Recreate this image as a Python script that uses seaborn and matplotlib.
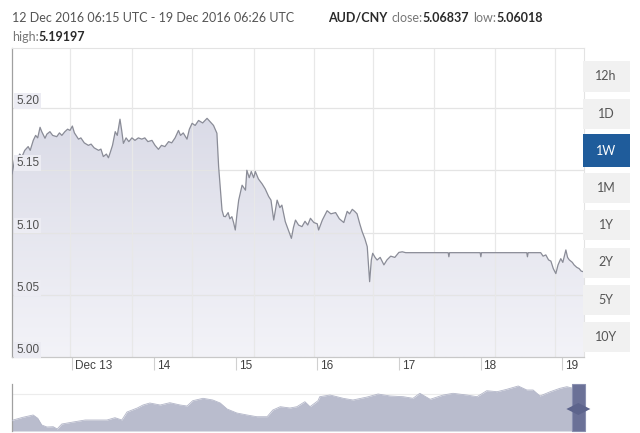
import numpy as np
import matplotlib
matplotlib.use("Agg")
import matplotlib.pyplot as plt
import seaborn as sns
from matplotlib.colors import LinearSegmentedColormap
from matplotlib.patches import Rectangle, Polygon
import matplotlib.transforms as mtransforms

# ---------------- data ----------------
# hours since 12 Dec 2016 00:00 UTC
hours = [6.25, 6.6, 7.1, 7.8, 8.5, 9.2, 10.0, 11.0, 11.6, 12.5, 13.2, 13.8, 14.5, 15.0, 15.95,
         16.5, 17.4, 18.2, 19.4, 20.2, 20.9, 21.8, 22.6, 23.3, 24.0, 24.6, 25.8, 26.5, 27.5,
         28.7, 29.5, 30.4, 31.7, 32.4, 33.1, 34.0, 34.6, 35.1, 35.8, 36.6, 37.2, 38.0, 38.5,
         39.0, 39.8, 40.6, 41.5, 42.4, 43.4, 44.4, 45.3, 46.2, 47.4, 48.3, 49.3, 50.2, 51.2,
         52.3, 53.2, 54.2, 55.2, 55.8, 56.6, 57.7, 58.4, 59.2, 60.1, 61.1, 62.3, 63.6, 64.5,
         65.5, 66.5, 67.0, 67.5, 68.0, 68.5, 69.0, 69.8, 70.3, 70.9, 71.4, 71.9, 72.4, 72.9,
         73.9, 74.9, 75.3, 76.0, 76.6, 77.3, 77.8, 78.7, 79.8, 80.7, 81.7, 82.4, 83.2, 84.2,
         85.0, 85.6, 86.6, 87.5, 88.4, 89.0, 89.6, 90.5, 91.5, 92.4, 93.2, 94.0, 95.0, 96.0,
         96.4, 97.5, 98.9, 100.0, 101.4, 102.5, 103.8, 104.8, 105.5, 106.3, 107.0, 107.7,
         108.5, 109.2, 110.0, 110.7, 111.1, 111.4, 111.9, 112.3, 113.0, 113.6, 114.5, 115.6,
         116.5, 117.6, 118.8, 120.0, 121.0, 122.0, 134.5, 134.7, 134.9, 143.9, 144.1, 144.3,
         157.6, 157.8, 158.0, 161.7, 162.4, 163.2, 164.0, 164.7, 165.4, 166.15, 166.8, 167.6,
         168.2, 169.1, 169.6, 170.1, 171.0, 171.5, 172.3, 173.0, 173.6, 174.43]
prices = [5.147, 5.152, 5.160, 5.158, 5.163, 5.161, 5.166, 5.169, 5.166, 5.174, 5.178, 5.176,
          5.1845, 5.181, 5.1757, 5.179, 5.181, 5.178, 5.177, 5.180, 5.178, 5.181, 5.183, 5.182,
          5.1855, 5.180, 5.175, 5.176, 5.172, 5.170, 5.171, 5.168, 5.166, 5.167, 5.161, 5.163,
          5.160, 5.164, 5.170, 5.181, 5.178, 5.191, 5.182, 5.1716, 5.176, 5.173, 5.176, 5.174,
          5.176, 5.175, 5.176, 5.173, 5.174, 5.170, 5.1668, 5.170, 5.169, 5.173, 5.172, 5.176,
          5.182, 5.178, 5.180, 5.175, 5.183, 5.1877, 5.186, 5.190, 5.188, 5.1917, 5.189, 5.186,
          5.1797, 5.153, 5.135, 5.118, 5.113, 5.1127, 5.116, 5.111, 5.1127, 5.108, 5.102, 5.115,
          5.126, 5.138, 5.134, 5.150, 5.144, 5.149, 5.144, 5.149, 5.143, 5.139, 5.135, 5.129,
          5.126, 5.110, 5.126, 5.120, 5.122, 5.1087, 5.102, 5.0953, 5.104, 5.110, 5.106, 5.1047,
          5.109, 5.106, 5.1114, 5.108, 5.107, 5.102, 5.110, 5.1175, 5.115, 5.116, 5.111, 5.108,
          5.117, 5.115, 5.1186, 5.117, 5.115, 5.107, 5.1007, 5.095, 5.0886, 5.072, 5.0605, 5.078,
          5.0833, 5.080, 5.0779, 5.080, 5.074, 5.078, 5.081, 5.080, 5.084, 5.0845, 5.0838,
          5.0838, 5.0805, 5.0838, 5.0838, 5.0805, 5.0838, 5.0838, 5.0805, 5.0838, 5.0838,
          5.081, 5.082, 5.078, 5.077, 5.071, 5.067, 5.074, 5.079, 5.076, 5.086, 5.080, 5.078,
          5.076, 5.074, 5.072, 5.071, 5.069, 5.06837]

y_ticks = [5.00, 5.05, 5.10, 5.15, 5.20]
y_tick_labels = ["5.00", "5.05", "5.10", "5.15", "5.20"]
x_ticks = [24, 48, 72, 96, 120, 144, 168]
x_tick_labels = ["Dec 13", "14", "15", "16", "17", "18", "19"]
x_grid = [23.4, 41.4, 59.3, 77.3, 95.0, 112.3, 130.3, 148.3, 165.8]

# navigator (overview) series, position along the strip (0-1) and relative height
nav_pos = [0.0, 0.002, 0.019, 0.037, 0.045, 0.052, 0.061, 0.072, 0.079, 0.087, 0.107, 0.128,
           0.149, 0.166, 0.180, 0.192, 0.201, 0.219, 0.229, 0.241, 0.259, 0.276, 0.294, 0.306,
           0.316, 0.334, 0.351, 0.364, 0.376, 0.393, 0.411, 0.428, 0.446, 0.456, 0.469, 0.486,
           0.498, 0.512, 0.521, 0.535, 0.538, 0.556, 0.579, 0.596, 0.621, 0.640, 0.661, 0.684,
           0.701, 0.713, 0.731, 0.754, 0.771, 0.795, 0.813, 0.830, 0.848, 0.865, 0.885, 0.900,
           0.911, 0.923, 0.941, 0.958, 0.970, 0.981, 0.997, 1.0]
nav_val = [10, 11, 13.7, 16, 12.7, 6, 4, 4.3, 2, 7, 9, 11, 11, 11, 13.3, 11, 19, 23, 26, 28,
           26, 28.3, 26, 25, 30.3, 32.7, 31, 28, 22, 18, 16, 14.3, 14.3, 21, 24.3, 23, 24.3,
           29.3, 24.3, 30.3, 34.3, 36, 32.7, 31, 34, 37, 35, 34.3, 32.7, 37.7, 31.7, 36, 37.7,
           36, 34.3, 40.3, 39.3, 41.7, 45, 41, 41, 35, 39.3, 42.7, 44.3, 42.7, 41, 41]

header_date = "12 Dec 2016 06:15 UTC - 19 Dec 2016 06:26 UTC"
pair = "AUD/CNY"
close_v, low_v, high_v = "5.06837", "5.06018", "5.19197"
buttons = ["12h", "1D", "1W", "1M", "1Y", "2Y", "5Y", "10Y"]
selected = "1W"

# ---------------- figure ----------------
sns.set_style("white")
plt.rcParams['font.family'] = ['Liberation Sans', 'DejaVu Sans']
W, H = 640, 433
fig = plt.figure(figsize=(6.4, 4.33), dpi=100)
fig.patch.set_facecolor("white")

def fr(x0, y0, x1, y1):
    return [x0 / W, 1 - y1 / H, (x1 - x0) / W, (y1 - y0) / H]

ax = fig.add_axes(fr(12, 48, 584, 357))
ax.set_facecolor("white")

xmin, xmax = hours[0], hours[-1]
ymin, ymax = 5.0, 5.0 + 309 / 1245

# gradient fill under the line
poly = ax.fill_between(hours, prices, ymin, facecolor="none", edgecolor="none")
cmap = LinearSegmentedColormap.from_list("g", ["#f3f3f8", "#d3d4e2"])
grad = np.linspace(0, 1, 256).reshape(-1, 1)
im = ax.imshow(grad, extent=[xmin, xmax, ymin, ymax], origin="lower", cmap=cmap,
               aspect="auto", zorder=1, interpolation="bilinear")
im.set_clip_path(poly.get_paths()[0], transform=ax.transData)

sns.lineplot(x=hours, y=prices, ax=ax, color="#8a8c97", linewidth=0.9, zorder=3)

ax.set_xlim(xmin, xmax)
ax.set_ylim(ymin, ymax)

# grid
for g in y_ticks[1:]:
    ax.axhline(g, color="#e4e4e4", lw=0.9, zorder=2)
for g in x_grid:
    ax.axvline(g, color="#e8e8e8", lw=0.9, zorder=2)

ax.set_xticks(x_ticks)
ax.set_xticklabels([])
ax.set_yticks([])
ax.tick_params(axis="x", direction="out", length=9, width=0.8, color="#d0d0d0", bottom=True)

for s in ["top", "right"]:
    ax.spines[s].set_color("#e3e3e3")
    ax.spines[s].set_linewidth(0.8)
ax.spines["left"].set_color("#a0a0a0")
ax.spines["left"].set_linewidth(0.9)
ax.spines["bottom"].set_color("#c8c8c8")
ax.spines["bottom"].set_linewidth(0.9)

# y labels inside the plot
ylab_tr = mtransforms.offset_copy(ax.get_yaxis_transform(), fig=fig, x=4, y=7, units="dots")
for v, lab in zip(y_ticks, y_tick_labels):
    ax.text(0, v, lab, transform=ylab_tr, ha="left", va="center", fontsize=8.5,
            color="#505050", zorder=5,
            bbox=dict(boxstyle="square,pad=0.15", fc="#ececf3", ec="none"))

# x labels to the right of tick
xlab_tr = mtransforms.offset_copy(ax.get_xaxis_transform(), fig=fig, x=3, y=-9, units="dots")
for v, lab in zip(x_ticks, x_tick_labels):
    ax.text(v, 0, lab, transform=xlab_tr, ha="left", va="center", fontsize=8.5,
            color="#404040", clip_on=False)

# ---------------- navigator ----------------
nav = fig.add_axes(fr(12, 384, 584, 431))
nav.set_facecolor("white")
nav.fill_between(nav_pos, nav_val, 0, color="#b9bccd", lw=0, zorder=2)
sns.lineplot(x=nav_pos, y=nav_val, ax=nav, color="#b3b6c8", linewidth=0.6, zorder=3)
nav.axhline(37, color="#ececec", lw=0.8, zorder=1)
nav.set_xlim(0, 1)
nav.set_ylim(0, 47)
nav.set_xticks([])
nav.set_yticks([])
for s in ["top", "right", "bottom"]:
    nav.spines[s].set_visible(False)
nav.spines["left"].set_color("#a0a0a0")
nav.spines["left"].set_linewidth(0.9)

# navigator handle
hx0, hx1 = (571.7 - 12) / 572, (585 - 12) / 572
nav.add_patch(Rectangle((hx0, 0), hx1 - hx0, 47, facecolor="#6b7197", edgecolor="#8a90b0",
                        lw=0.8, zorder=5, clip_on=False))
cx = (hx0 + hx1) / 2
nav.add_patch(Polygon([[cx - 12 / 572, 22], [cx, 28], [cx + 12 / 572, 22], [cx, 16]],
                      closed=True, facecolor="#5d648c", edgecolor="none", zorder=6, clip_on=False))

# ---------------- buttons ----------------
for i, b in enumerate(buttons):
    cy = 76.5 + i * 37.2
    sel = b == selected
    hh = 33 if sel else 30
    fig.add_artist(Rectangle(((583) / W, 1 - (cy + hh / 2) / H), 47 / W, hh / H,
                             transform=fig.transFigure,
                             facecolor="#1f5c9b" if sel else "#f1f1f1", edgecolor="none"))
    fig.text(606 / W, 1 - cy / H, b, ha="center", va="center", fontsize=9,
             family=["Lato", "DejaVu Sans"], weight="normal",
             color="white" if sel else "#555555")

# ---------------- header ----------------
renderer = fig.canvas.get_renderer()

def chain(items, x, y):
    for txt, weight, color, gap in items:
        t = fig.text(x / W, 1 - y / H, txt, ha="left", va="center", fontsize=9,
                     family=["Lato", "DejaVu Sans"], weight=weight, color=color)
        bb = t.get_window_extent(renderer=renderer)
        x = bb.x1 + gap

chain([(header_date, "normal", "#555555", 34),
       (pair, "bold", "#2a2a2a", 4),
       ("close:", "normal", "#777777", 0),
       (close_v, "bold", "#2a2a2a", 4),
       ("low:", "normal", "#777777", 0),
       (low_v, "bold", "#2a2a2a", 0)], 12, 18)
chain([("high:", "normal", "#777777", 0),
       (high_v, "bold", "#2a2a2a", 0)], 12, 37)

fig.savefig("out.png", dpi=100, facecolor="white")
